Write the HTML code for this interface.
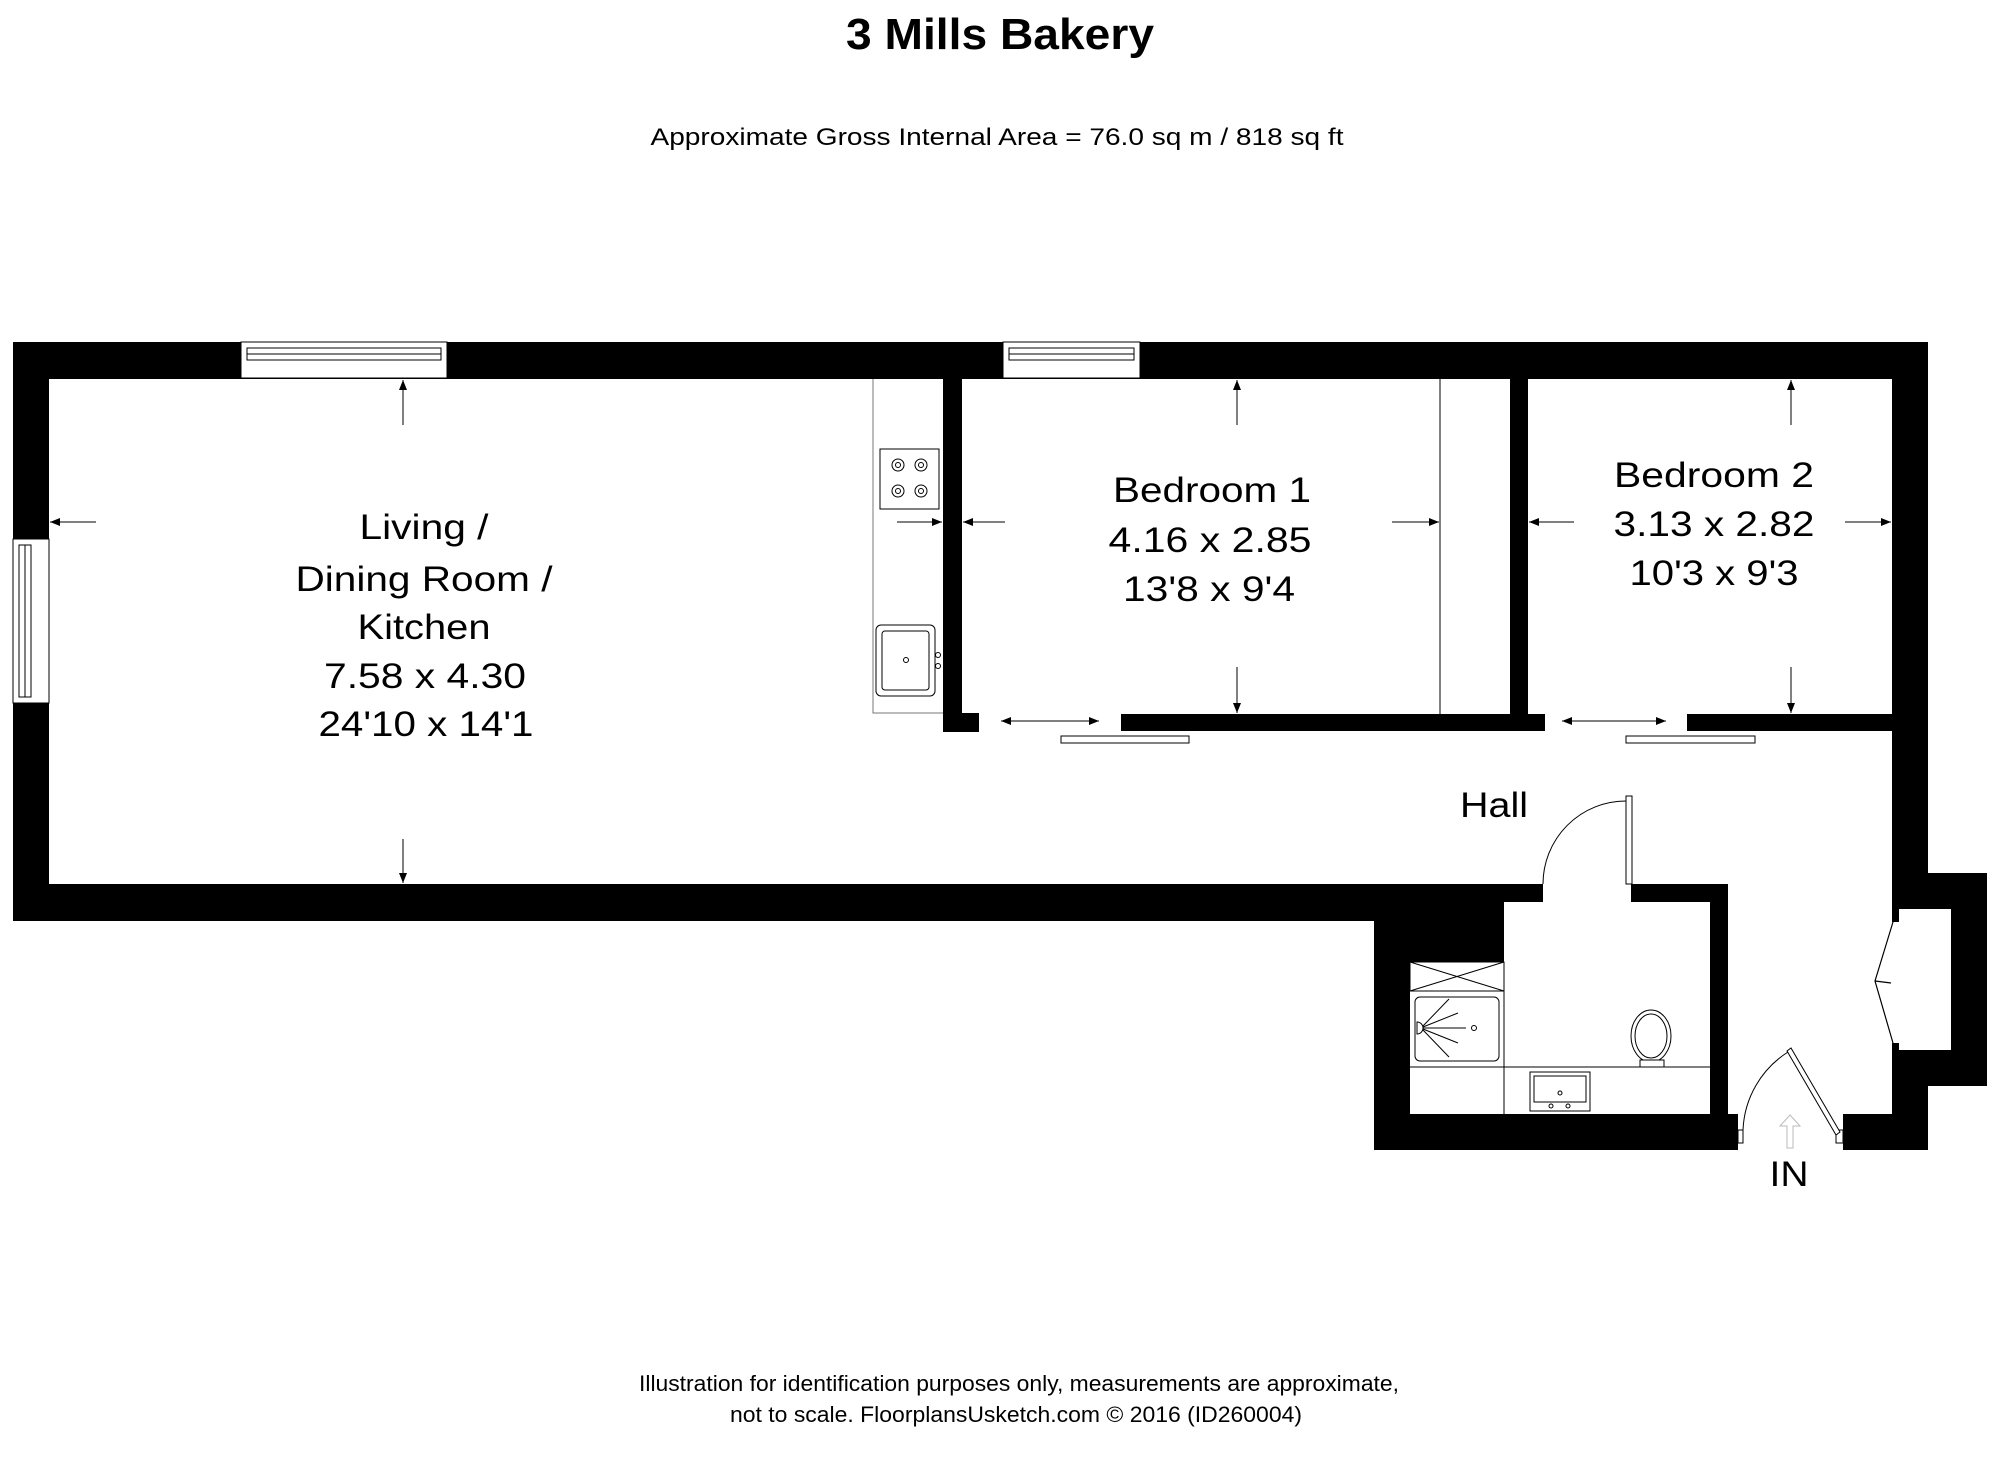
<!DOCTYPE html>
<html><head><meta charset="utf-8"><style>
html,body{margin:0;padding:0;background:#fff;}
svg{display:block;}
text{font-family:"Liberation Sans",Arial,sans-serif;fill:#000;}
</style></head><body>
<svg width="2000" height="1457" viewBox="0 0 2000 1457" xmlns="http://www.w3.org/2000/svg">
<defs>
<marker id="ah" markerWidth="10" markerHeight="8" refX="10" refY="4" orient="auto" markerUnits="userSpaceOnUse" viewBox="0 0 10 8">
<path d="M0,0 L10,4 L0,8 Z" fill="#000"/></marker>
</defs>
<rect width="2000" height="1457" fill="#fff"/>
<text x="1000" y="49" font-size="44" font-weight="bold" text-anchor="middle" textLength="308" lengthAdjust="spacingAndGlyphs">3 Mills Bakery</text>
<text x="997" y="145" font-size="24" text-anchor="middle" textLength="693" lengthAdjust="spacingAndGlyphs">Approximate Gross Internal Area = 76.0 sq m / 818 sq ft</text>

<g fill="#000">
<rect x="13" y="342" width="1915" height="37"/>
<rect x="13" y="342" width="36" height="579"/>
<rect x="13" y="884" width="1530" height="18"/>
<rect x="13" y="902" width="1491" height="19"/>
<rect x="1374" y="902" width="130" height="60"/>
<rect x="1374" y="902" width="36" height="248"/>
<rect x="1374" y="1114" width="364" height="36"/>
<rect x="1631" y="884" width="97" height="18"/>
<rect x="1710" y="884" width="18" height="266"/>
<rect x="1892" y="342" width="36" height="808"/>
<rect x="1843" y="1114" width="85" height="36"/>
<rect x="1892" y="873" width="95" height="213"/>
<rect x="943" y="379" width="19" height="353"/>
<rect x="943" y="713" width="36" height="19"/>
<rect x="1121" y="714" width="424" height="17"/>
<rect x="1510" y="379" width="18" height="352"/>
<rect x="1687" y="714" width="205" height="17"/>
</g>
<rect x="1899" y="909" width="52" height="141" fill="#fff"/>
<rect x="1892" y="922" width="8" height="121" fill="#fff"/>
<path d="M1893,922 L1875,981 L1893,1043 M1875,981 L1891,983" fill="none" stroke="#000" stroke-width="1.2"/>

<g fill="#fff" stroke="#000" stroke-width="1">
<rect x="241" y="342" width="206" height="36"/>
<rect x="247" y="348" width="194" height="12"/>
<line x1="247" y1="354" x2="441" y2="354"/>
<rect x="1003" y="342" width="137" height="36"/>
<rect x="1009" y="348" width="125" height="12"/>
<line x1="1009" y1="354" x2="1134" y2="354"/>
<rect x="13" y="539" width="36" height="164"/>
<rect x="19" y="545" width="12" height="152"/>
<line x1="25" y1="545" x2="25" y2="697"/>
</g>

<g fill="none" stroke="#000" stroke-width="1">
<polyline points="873,379 873,713 943,713" stroke="#777"/>
<rect x="880" y="449" width="59" height="60"/>
<circle cx="898" cy="465" r="6"/><circle cx="898" cy="465" r="2.5"/>
<circle cx="921" cy="465" r="6"/><circle cx="921" cy="465" r="2.5"/>
<circle cx="898" cy="491" r="6"/><circle cx="898" cy="491" r="2.5"/>
<circle cx="921" cy="491" r="6"/><circle cx="921" cy="491" r="2.5"/>
<rect x="876" y="625" width="59" height="71" rx="5"/>
<rect x="882" y="631" width="47" height="59" rx="3"/>
<circle cx="906" cy="660" r="2.5"/>
<circle cx="938" cy="655" r="2.5"/><circle cx="938" cy="666" r="2.5"/>
</g>

<line x1="1440" y1="379" x2="1440" y2="714" stroke="#000" stroke-width="1"/>

<g fill="#fff" stroke="#000" stroke-width="1">
<rect x="1061" y="736" width="128" height="7"/>
<rect x="1626" y="736" width="129" height="7"/>
</g>

<g stroke="#000" stroke-width="1" fill="none" marker-end="url(#ah)">
<line x1="403" y1="425" x2="403" y2="380"/>
<line x1="403" y1="839" x2="403" y2="883"/>
<line x1="96" y1="522" x2="50" y2="522"/>
<line x1="897" y1="522" x2="942" y2="522"/>
<line x1="1005" y1="522" x2="963" y2="522"/>
<line x1="1392" y1="522" x2="1439" y2="522"/>
<line x1="1237" y1="425" x2="1237" y2="380"/>
<line x1="1237" y1="667" x2="1237" y2="713"/>
<line x1="1574" y1="522" x2="1529" y2="522"/>
<line x1="1845" y1="522" x2="1891" y2="522"/>
<line x1="1791" y1="425" x2="1791" y2="380"/>
<line x1="1791" y1="667" x2="1791" y2="713"/>
<line x1="1050" y1="721" x2="1099" y2="721"/>
<line x1="1050" y1="721" x2="1001" y2="721"/>
<line x1="1614" y1="721" x2="1666" y2="721"/>
<line x1="1614" y1="721" x2="1562" y2="721"/>
</g>

<rect x="1626" y="796" width="6" height="88" fill="#fff" stroke="#000" stroke-width="1"/>
<path d="M1543,884 A83,83 0 0 1 1626,801" fill="none" stroke="#000" stroke-width="1"/>

<g fill="none" stroke="#000" stroke-width="1">
<rect x="1410" y="962" width="94" height="29"/>
<path d="M1410,962 L1504,991 M1504,962 L1410,991"/>
<rect x="1415" y="997" width="84" height="64" rx="5"/>
<line x1="1504" y1="962" x2="1504" y2="1114"/>
<line x1="1410" y1="1067" x2="1710" y2="1067"/>
<path d="M1417,1022 a6,6 0 0 1 0,12 Z"/>
<path d="M1423,1028 L1466,1028 M1423,1026 L1449,999 M1423,1030 L1449,1057 M1423,1027 L1458,1013 M1423,1029 L1458,1043"/>
<circle cx="1474" cy="1028" r="2.5"/>
<rect x="1530" y="1072" width="60" height="39"/>
<rect x="1534" y="1076" width="52" height="26"/>
<circle cx="1560" cy="1093" r="2"/>
<circle cx="1551" cy="1106" r="2"/><circle cx="1568" cy="1106" r="2"/>
<ellipse cx="1651" cy="1036" rx="20" ry="26"/>
<ellipse cx="1651" cy="1036" rx="16" ry="22"/>
<rect x="1640" y="1060" width="24" height="7" fill="#fff"/>
</g>

<g fill="#fff" stroke="#000" stroke-width="1">
<rect x="1738" y="1130" width="5" height="13"/>
<rect x="1836" y="1130" width="7" height="13"/>
<path d="M1787,1051 L1791,1048 L1840,1132 L1836,1135 Z"/>
</g>
<path d="M1743,1130 A97,97 0 0 1 1788,1052" fill="none" stroke="#000" stroke-width="1"/>
<path d="M1787,1148 L1787,1126 L1780,1126 L1790,1115 L1800,1126 L1793,1126 L1793,1148 Z" fill="none" stroke="#bbb" stroke-width="1"/>

<g font-size="35" text-anchor="middle">
<text x="424" y="539" textLength="129" lengthAdjust="spacingAndGlyphs">Living /</text>
<text x="424" y="591" textLength="257" lengthAdjust="spacingAndGlyphs">Dining Room /</text>
<text x="424" y="639" textLength="133" lengthAdjust="spacingAndGlyphs">Kitchen</text>
<text x="425" y="688" textLength="202" lengthAdjust="spacingAndGlyphs">7.58 x 4.30</text>
<text x="426" y="736" textLength="215" lengthAdjust="spacingAndGlyphs">24'10 x 14'1</text>
<text x="1212" y="502" textLength="198" lengthAdjust="spacingAndGlyphs">Bedroom 1</text>
<text x="1210" y="552" textLength="203" lengthAdjust="spacingAndGlyphs">4.16 x 2.85</text>
<text x="1209" y="601" textLength="172" lengthAdjust="spacingAndGlyphs">13'8 x 9'4</text>
<text x="1714" y="487" textLength="200" lengthAdjust="spacingAndGlyphs">Bedroom 2</text>
<text x="1714" y="536" textLength="201" lengthAdjust="spacingAndGlyphs">3.13 x 2.82</text>
<text x="1714" y="585" textLength="169" lengthAdjust="spacingAndGlyphs">10'3 x 9'3</text>
<text x="1494" y="817" textLength="68" lengthAdjust="spacingAndGlyphs">Hall</text>
<text x="1789" y="1186" textLength="39" lengthAdjust="spacingAndGlyphs">IN</text>
</g>
<text x="1019" y="1391" font-size="22" text-anchor="middle" textLength="760" lengthAdjust="spacingAndGlyphs">Illustration for identification purposes only, measurements are approximate,</text>
<text x="1016" y="1422" font-size="22" text-anchor="middle" textLength="572" lengthAdjust="spacingAndGlyphs">not to scale. FloorplansUsketch.com © 2016 (ID260004)</text>
</svg>
</body></html>
